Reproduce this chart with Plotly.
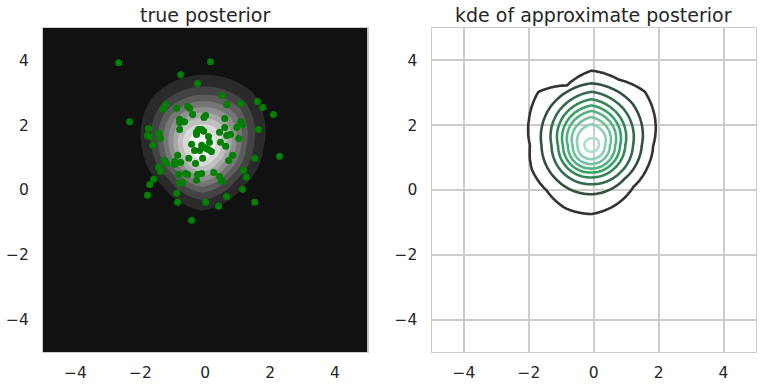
import numpy as np
import plotly.graph_objects as go
from plotly.subplots import make_subplots

# ---------------- data ----------------
# green samples on the "true posterior" panel
post_x = [-2.67, 0.16, -0.76, -0.24, 0.53, -1.22, -1.31, 0.66, 1.09, 1.61, 1.77, 2.10,
          -2.33, -0.88, -0.54, -0.48, -0.39, -0.04, 0.01, -0.79, -0.79, -0.64, 0.60, 0.60,
          0.97, 1.09, 1.15, 1.64, -1.75, -1.78, -1.71, -1.44, -1.38, -1.62, -0.79, -0.27,
          -0.21, -0.11, -0.05, -0.27, 0.10, 0.44, 0.66, 0.78, 1.03, 0.47, 0.63, -0.42,
          0.13, -0.11, -0.02, -0.33, -0.17, 0.04, 0.10, 0.19, -0.85, -0.51, -0.08, -0.30,
          0.84, 0.72, 1.52, 2.29, -1.25, -1.19, -0.94, -0.94, -0.76, -1.44, -1.38, -0.82,
          -0.61, -0.54, -0.24, -0.11, 0.26, 0.44, 0.50, 0.53, -0.27, -0.79, -0.70, -1.59,
          -1.71, -1.78, 1.18, 1.27, 1.15, 0.66, 1.52, -0.88, -0.85, 0.01, 0.41, -0.42]
post_y = [3.93, 3.96, 3.56, 3.29, 2.92, 2.64, 2.49, 2.64, 2.67, 2.73, 2.55, 2.33,
          2.11, 2.52, 2.58, 2.52, 2.33, 2.24, 2.30, 2.18, 2.08, 2.11, 2.21, 1.93,
          1.93, 2.11, 2.02, 1.87, 1.90, 1.68, 1.65, 1.75, 1.59, 1.38, 1.87, 1.78,
          1.87, 1.87, 1.81, 1.71, 1.65, 1.78, 1.68, 1.71, 1.59, 1.47, 1.35, 1.41,
          1.47, 1.38, 1.31, 1.22, 1.22, 1.28, 1.25, 1.19, 1.07, 0.98, 0.98, 0.82,
          1.07, 0.91, 0.98, 1.04, 0.91, 0.82, 0.88, 0.79, 0.85, 0.70, 0.57, 0.48,
          0.51, 0.48, 0.48, 0.51, 0.54, 0.42, 0.27, 0.27, 0.30, 0.21, 0.24, 0.33,
          0.17, -0.16, 0.61, 0.39, 0.02, -0.20, -0.38, -0.10, -0.38, -0.38, -0.50, -0.93]

# true posterior: filled-contour bands, centre and band-edge radii
# (radii at equally spaced directions, counter-clockwise from east)
true_center = (-0.10, 1.35)
true_levels = [1, 2, 3, 4, 5, 6, 7, 8, 9]
true_rings = [
    [1.90, 2.28, 2.20, 2.15, 1.85, 1.72, 1.98, 1.77],
    [1.59, 1.91, 1.84, 1.80, 1.55, 1.44, 1.66, 1.48],
    [1.37, 1.65, 1.59, 1.55, 1.34, 1.24, 1.43, 1.28],
    [1.20, 1.44, 1.39, 1.36, 1.17, 1.09, 1.25, 1.12],
    [1.04, 1.25, 1.21, 1.18, 1.02, 0.94, 1.09, 0.97],
    [0.89, 1.07, 1.04, 1.01, 0.87, 0.81, 0.93, 0.83],
    [0.75, 0.90, 0.87, 0.85, 0.73, 0.68, 0.78, 0.70],
    [0.59, 0.71, 0.68, 0.67, 0.58, 0.53, 0.62, 0.55],
    [0.41, 0.49, 0.47, 0.46, 0.40, 0.37, 0.42, 0.38],
]
true_peak = 10.0

# kde of approximate posterior: contour-line radii
kde_center = (-0.07, 1.38)
kde_levels = [1, 2, 3, 4, 5, 6, 7, 8, 9]
kde_rings = [
    [1.90, 2.12, 2.33, 2.19, 2.30, 1.99, 2.32, 2.08, 1.89, 1.98, 1.96, 2.10, 2.12, 1.98, 1.82, 1.85],
    [1.55, 1.80, 1.91, 1.74, 1.54, 1.51, 1.51, 1.45],
    [1.28, 1.48, 1.65, 1.45, 1.23, 1.22, 1.20, 1.22],
    [1.04, 1.24, 1.42, 1.24, 1.03, 1.02, 0.99, 1.00],
    [0.88, 1.06, 1.23, 1.06, 0.88, 0.87, 0.84, 0.85],
    [0.73, 0.90, 1.06, 0.90, 0.73, 0.73, 0.72, 0.72],
    [0.57, 0.72, 0.87, 0.73, 0.58, 0.59, 0.58, 0.57],
    [0.42, 0.54, 0.65, 0.54, 0.43, 0.44, 0.43, 0.42],
    [0.23, 0.26, 0.21, 0.22, 0.22, 0.21, 0.20, 0.21],
]
kde_peak = 9.6

tick_vals = [-4, -2, 0, 2, 4]
titles = ["true posterior", "kde of approximate posterior"]


# ---------------- build level tables for the contour traces ----------------
def ring_radius(radii, theta):
    radii = np.asarray(radii, dtype=float)
    n = len(radii)
    ang = np.linspace(0, 2 * np.pi, n, endpoint=False)
    return np.interp(theta, np.append(ang, 2 * np.pi), np.append(radii, radii[0]))


def level_table(center, levels, rings, peak, g):
    X, Y = np.meshgrid(g, g)
    dx, dy = X - center[0], Y - center[1]
    r = np.hypot(dx, dy)
    th = np.mod(np.arctan2(dy, dx), 2 * np.pi)
    R = [ring_radius(rr, th) for rr in rings]
    K = len(rings)
    z = np.zeros_like(r)
    out = r > R[0]
    z[out] = np.clip(levels[0] - (r[out] - R[0][out]) / (0.5 * R[0][out]), 0, None)
    for k in range(K - 1):
        m = (r <= R[k]) & (r > R[k + 1])
        t = (R[k][m] - r[m]) / (R[k][m] - R[k + 1][m])
        z[m] = levels[k] + t * (levels[k + 1] - levels[k])
    m = r <= R[K - 1]
    z[m] = levels[-1] + (1 - r[m] / R[K - 1][m]) * (peak - levels[-1])
    return z


grid = np.linspace(-5, 5, 401)
z_true = level_table(true_center, true_levels, true_rings, true_peak, grid)
z_kde = level_table(kde_center, kde_levels, kde_rings, kde_peak, grid)

# ---------------- figure ----------------
FONT = "DejaVu Sans"
TXT = "#262626"

W, H = 763, 385
ML, MR, MT, MB = 43, 7, 28, 33
plot_w = W - ML - MR
gap = 64.0 / plot_w

fig = make_subplots(rows=1, cols=2, subplot_titles=titles,
                    horizontal_spacing=gap)

fig.add_trace(go.Contour(
    x=grid, y=grid, z=z_true,
    contours=dict(start=true_levels[0], end=true_levels[-1], size=1, coloring="fill"),
    colorscale=[[0, "#111111"], [1, "#f2f2f2"]],
    line=dict(width=0, smoothing=1.0),
    showscale=False, hoverinfo="skip"), row=1, col=1)

fig.add_trace(go.Scatter(
    x=post_x, y=post_y, mode="markers",
    marker=dict(color="#008000", size=7, line=dict(width=0)),
    showlegend=False, hoverinfo="skip"), row=1, col=1)

fig.add_trace(go.Contour(
    x=grid, y=grid, z=z_kde,
    contours=dict(start=kde_levels[0], end=kde_levels[-1], size=1, coloring="lines"),
    colorscale=[[0, "#333333"], [0.5, "#37a266"], [1, "#aaded2"]],
    line=dict(width=2.6, smoothing=1.0),
    showscale=False, hoverinfo="skip"), row=1, col=2)

axis_common = dict(range=[-5, 5], tickvals=tick_vals, zeroline=False, automargin=False,
                   showline=True, mirror=True, linecolor="#cccccc", linewidth=1.3,
                   tickfont=dict(family=FONT, size=15.5, color=TXT),
                   ticks="outside", tickcolor="rgba(0,0,0,0)")

fig.update_xaxes(**axis_common, ticklen=6)
fig.update_yaxes(**axis_common, ticklen=10)
fig.update_xaxes(showgrid=False, row=1, col=1)
fig.update_yaxes(showgrid=False, row=1, col=1)
fig.update_xaxes(showgrid=True, gridcolor="#cccccc", gridwidth=1.5, row=1, col=2)
fig.update_yaxes(showgrid=True, gridcolor="#cccccc", gridwidth=1.5, row=1, col=2)

for a in fig.layout.annotations:
    a.font = dict(family=FONT, size=19, color=TXT)

fig.update_layout(
    width=W, height=H, autosize=False,
    margin=dict(l=ML, r=MR, t=MT, b=MB),
    paper_bgcolor="white", plot_bgcolor="white",
    font=dict(family=FONT, color=TXT),
    showlegend=False,
)

# remove the default 8px page margin so the figure fills the window exactly
fig.write_html("out.html",
               config={"displayModeBar": False},
               post_script="document.body.style.margin='0';document.body.style.overflow='hidden';")
